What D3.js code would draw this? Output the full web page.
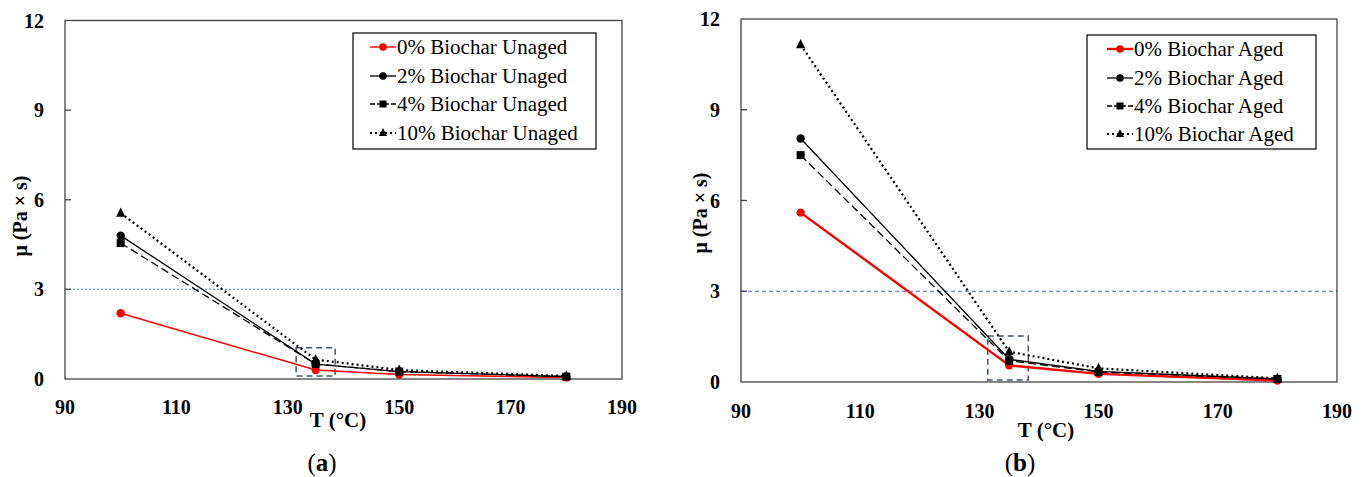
<!DOCTYPE html>
<html>
<head>
<meta charset="utf-8">
<script src="https://cdn.jsdelivr.net/npm/d3@7"></script>
<style>
  body { margin: 0; background: #fff; }
  text { font-family: "Liberation Serif", "Times New Roman", serif; fill: #000; }
</style>
</head>
<body>
<div id="chart"></div>
<script>
// temperatures (°C)
const temps = [100, 135, 150, 180];

// viscosity, unaged binder (Pa·s)
const unaged0 = [2.2, 0.3, 0.15, 0.05];
const unaged2 = [4.8, 0.5, 0.25, 0.08];
const unaged4 = [4.55, 0.5, 0.25, 0.08];
const unaged10 = [5.55, 0.65, 0.3, 0.1];

// viscosity, aged binder (Pa·s)
const aged0 = [5.6, 0.55, 0.27, 0.05];
const aged2 = [8.05, 0.75, 0.35, 0.1];
const aged4 = [7.5, 0.7, 0.33, 0.1];
const aged10 = [11.15, 1.0, 0.45, 0.12];

const xTicks = [90, 110, 130, 150, 170, 190];
const yTicks = [0, 3, 6, 9, 12];
const limitValue = 3;

var svg = d3.select("#chart")
  .append("svg")
  .attr("width", 1365)
  .attr("height", 477);

// line styles per biochar content
var styles = [
  {stroke: "#ff0000", dash: null, marker: "circle", mark: "#ff0000"},
  {stroke: "#000", dash: null, marker: "circle", mark: "#000"},
  {stroke: "#000", dash: "8,4", marker: "square", mark: "#000"},
  {stroke: "#000", dash: "2,3", marker: "triangle", mark: "#000"}
];

function drawMarker(g, type, color, cx, cy, r) {
  if (type == "circle") {
    g.append("circle").attr("cx", cx).attr("cy", cy).attr("r", r).attr("fill", color);
  } else if (type == "square") {
    g.append("rect").attr("x", cx - r).attr("y", cy - r)
      .attr("width", 2 * r).attr("height", 2 * r).attr("fill", color);
  } else {
    r = r * 1.15;
    g.append("path")
      .attr("d", "M0," + (-r) + "L" + r + "," + r + "L" + (-r) + "," + r + "Z")
      .attr("transform", "translate(" + cx + "," + (cy - 1) + ")")
      .attr("fill", color);
  }
}

function drawPanel(p) {
  var x = d3.scaleLinear().domain([90, 190]).range([p.left, p.right]);
  var y = d3.scaleLinear().domain([0, 12]).range([p.bottom, p.top]);
  var g = svg.append("g");

  // limit line at 3 Pa·s
  g.append("line")
    .attr("x1", x(90)).attr("x2", x(190))
    .attr("y1", y(limitValue)).attr("y2", y(limitValue))
    .attr("stroke", p.limitColor)
    .attr("stroke-width", 1.2)
    .attr("stroke-dasharray", p.limitDash);

  // frame
  g.append("rect")
    .attr("x", p.left).attr("y", p.top)
    .attr("width", p.right - p.left).attr("height", p.bottom - p.top)
    .attr("fill", "none").attr("stroke", "#444").attr("stroke-width", 1.3);

  // y ticks, pointing inward
  g.selectAll(".ytick").data(yTicks.slice(1, -1)).enter().append("line")
    .attr("x1", p.left).attr("x2", p.left + 6)
    .attr("y1", d => y(d)).attr("y2", d => y(d))
    .attr("stroke", "#444").attr("stroke-width", 1.3);

  g.selectAll(".ylab").data(yTicks).enter().append("text")
    .attr("x", p.left - 21).attr("y", d => y(d))
    .attr("dy", "0.35em")
    .attr("text-anchor", "end")
    .style("font-size", "20px").style("font-weight", "bold")
    .text(d => d);

  g.selectAll(".xlab").data(xTicks).enter().append("text")
    .attr("x", d => x(d)).attr("y", p.xLabelY)
    .attr("dy", "0.35em")
    .attr("text-anchor", "middle")
    .style("font-size", "20px").style("font-weight", "bold")
    .text(d => d);

  // highlight box around 135 °C
  g.append("rect")
    .attr("x", x(p.box[0])).attr("y", y(p.box[3]))
    .attr("width", x(p.box[1]) - x(p.box[0]))
    .attr("height", y(p.box[2]) - y(p.box[3]))
    .attr("fill", "none").attr("stroke", "#44546a")
    .attr("stroke-width", 1.5).attr("stroke-dasharray", "6,4");

  var line = d3.line().x((d, i) => x(temps[i])).y(d => y(d));

  p.series.forEach(function(s, k) {
    var st = styles[k];
    g.append("path")
      .datum(s.values)
      .attr("d", line)
      .attr("fill", "none")
      .attr("stroke", st.stroke)
      .attr("stroke-width", k == 0 ? p.redWidth : (k == 3 ? 2.2 : 1.3))
      .attr("stroke-dasharray", st.dash);
    s.values.forEach(function(v, i) {
      drawMarker(g, st.marker, st.mark, x(temps[i]), y(v), st.marker == "circle" ? 4.2 : 4);
    });
  });

  // legend
  var lg = g.append("g");
  lg.append("rect")
    .attr("x", p.legend.x).attr("y", p.legend.y)
    .attr("width", p.legend.w).attr("height", p.legend.h)
    .attr("fill", "#fff").attr("stroke", "#000").attr("stroke-width", 1.2);
  p.series.forEach(function(s, k) {
    var st = styles[k];
    var ry = p.legend.rows[k];
    var x0 = p.legend.sx, x1 = p.legend.sx + 26;
    lg.append("line")
      .attr("x1", x0).attr("x2", x1).attr("y1", ry).attr("y2", ry)
      .attr("stroke", st.stroke)
      .attr("stroke-width", k == 0 ? p.redWidth : (k == 3 ? 2 : 1.3))
      .attr("stroke-dasharray", k == 3 ? "2,3" : (k == 2 ? "5,2" : null));
    drawMarker(lg, st.marker, st.mark, (x0 + x1) / 2, ry, st.marker == "circle" ? 3.8 : 3.5);
    lg.append("text")
      .attr("x", x1 + 1).attr("y", ry).attr("dy", "0.35em")
      .style("font-size", "21px")
      .text(s.name);
  });

  // axis titles
  svg.append("text")
    .attr("transform", "translate(" + p.yTitleX + "," + p.yTitleY + ") rotate(-90)")
    .attr("text-anchor", "middle").attr("dy", "0.35em")
    .style("font-size", "20px").style("font-weight", "bold")
    .text("μ (Pa × s)");

  svg.append("text")
    .attr("x", p.xTitleX).attr("y", p.xTitleY).attr("dy", "0.35em")
    .attr("text-anchor", "middle")
    .style("font-size", "21px").style("font-weight", "bold")
    .text("T (°C)");

  var cap = svg.append("text")
    .attr("x", p.capX).attr("y", 462).attr("dy", "0.35em")
    .attr("text-anchor", "middle")
    .style("font-size", "25px");
  cap.append("tspan").text("(");
  cap.append("tspan").style("font-weight", "bold").text(p.capLetter);
  cap.append("tspan").text(")");
}

drawPanel({
  left: 65, right: 622, top: 20.5, bottom: 379,
  xLabelY: 407,
  limitColor: "#5b9bd5", limitDash: "2,2",
  redWidth: 1.4,
  box: [131.5, 138.5, 0.1, 1.05],
  series: [
    {name: "0% Biochar Unaged", values: unaged0},
    {name: "2% Biochar Unaged", values: unaged2},
    {name: "4% Biochar Unaged", values: unaged4},
    {name: "10% Biochar Unaged", values: unaged10}
  ],
  legend: {x: 353, y: 33, w: 243, h: 116, sx: 370, rows: [47, 76, 104, 133]},
  yTitleX: 20, yTitleY: 216,
  xTitleX: 338, xTitleY: 420,
  capX: 322, capLetter: "a"
});

drawPanel({
  left: 741, right: 1337, top: 19, bottom: 382,
  xLabelY: 411,
  limitColor: "#4472c4", limitDash: "4,3",
  redWidth: 2.4,
  box: [131.4, 138.2, 0.07, 1.52],
  series: [
    {name: "0% Biochar Aged", values: aged0},
    {name: "2% Biochar Aged", values: aged2},
    {name: "4% Biochar Aged", values: aged4},
    {name: "10% Biochar Aged", values: aged10}
  ],
  legend: {x: 1087, y: 35, w: 229, h: 114, sx: 1107, rows: [49, 78, 106, 134]},
  yTitleX: 700, yTitleY: 213,
  xTitleX: 1046, xTitleY: 430,
  capX: 1020, capLetter: "b"
});
</script>
</body>
</html>
